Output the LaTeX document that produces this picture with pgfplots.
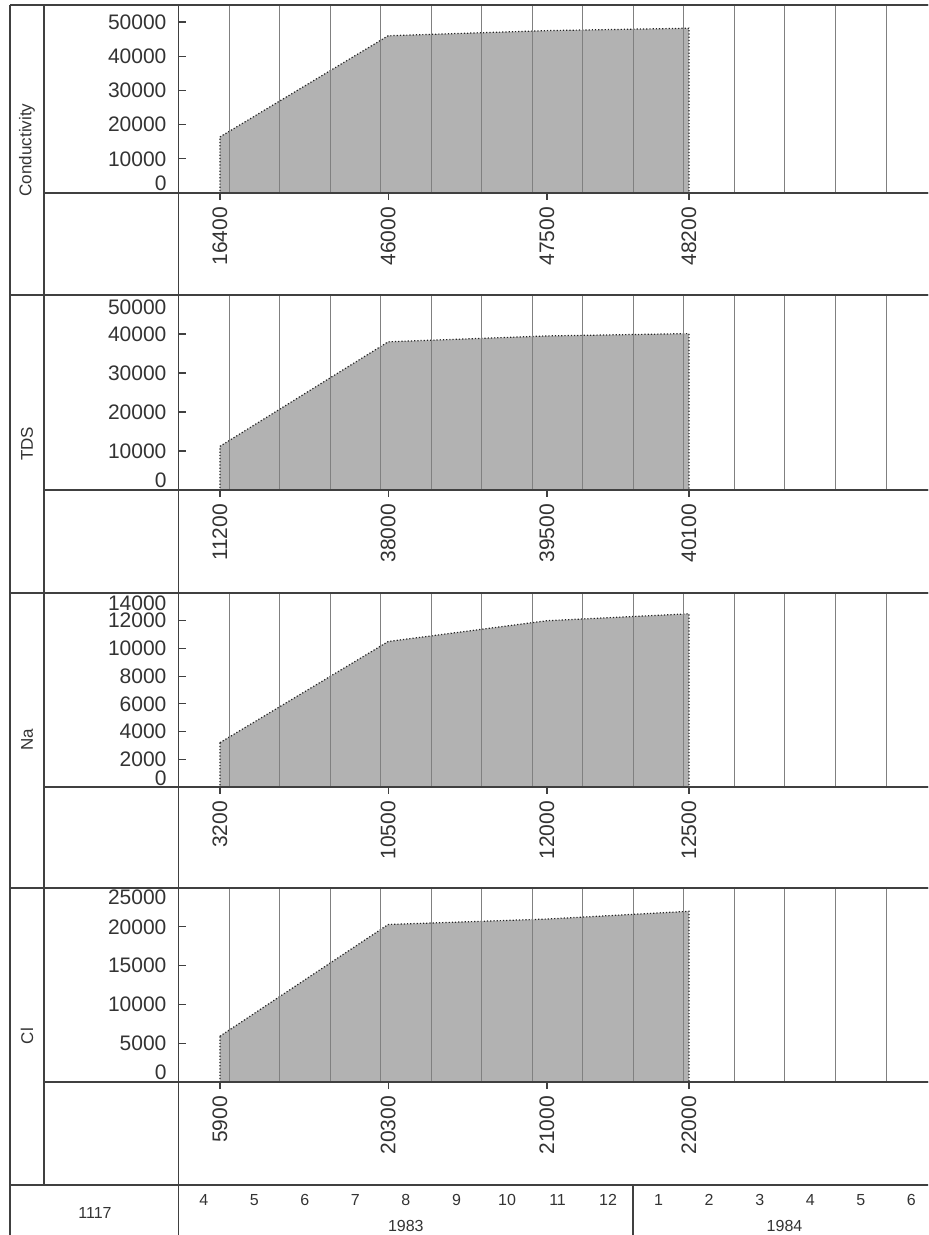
\documentclass[border=0pt]{standalone}
\usepackage{fontspec}
\setmainfont{Liberation Sans}
\usepackage{pgfplots}
\pgfplotsset{compat=1.18}

\pgfplotsset{
 panel/.style={
   scale only axis, anchor=south west,
   width=379.05pt,
   xmin=0, xmax=15, ymin=0,
   axis on top,
   scaled ticks=false,
   xtick pos=bottom, ytick pos=left,
   tick align=outside,
   major tick length=3.5pt,
   ytick style={xshift=3.5pt, black!75, line width=0.6pt},
   xtick style={black!75, line width=0.6pt},
   axis line style={black!75, line width=0.8pt},
   tick label style={font=\fontsize{10.5}{12}\selectfont, text=black!80},
   xticklabel style={rotate=90, anchor=east},
   yticklabel style={xshift=1pt},
   xtick={0.82,4.15,7.29,10.10},
   extra x ticks={1,2,3,4,5,6,7,8,9,10,11,12,13,14},
   extra x tick labels={},
   extra x tick style={grid=major, major tick length=0pt},
   major grid style={black!50, line width=0.5pt},
 },
 area/.style={fill=black!30, draw=black!85, densely dotted, line width=0.6pt},
}

\begin{document}
\begin{tikzpicture}
\useasboundingbox (0pt,0pt) rectangle (464pt,617.5pt);
\clip (0pt,0pt) rectangle (464pt,617.5pt);

% Conductivity
\begin{axis}[panel, at={(89.25pt,521pt)}, height=94pt, ymax=55000,
  ytick={0,10000,20000,30000,40000,50000},
  yticklabels={\raisebox{5pt}[\height][\depth]{0},10000,20000,30000,40000,50000},
  xticklabels={16400,46000,47500,48200}]
\addplot[area] coordinates {(0.82,16400) (4.15,46000) (7.29,47500) (10.10,48200)} \closedcycle;
\end{axis}

% TDS
\begin{axis}[panel, at={(89.25pt,372.5pt)}, height=97.5pt, ymax=50000,
  ytick={0,10000,20000,30000,40000,50000},
  yticklabels={\raisebox{5pt}[\height][\depth]{0},10000,20000,30000,40000,\raisebox{-6pt}[\height][\depth]{50000}},
  xticklabels={11200,38000,39500,40100}]
\addplot[area] coordinates {(0.82,11200) (4.15,38000) (7.29,39500) (10.10,40100)} \closedcycle;
\end{axis}

% Na
\begin{axis}[panel, at={(89.25pt,224pt)}, height=97pt, ymax=14000,
  ytick={0,2000,4000,6000,8000,10000,12000,14000},
  yticklabels={\raisebox{4.5pt}[\height][\depth]{0},2000,4000,6000,8000,10000,12000,\raisebox{-5pt}[\height][\depth]{14000}},
  xticklabels={3200,10500,12000,12500}]
\addplot[area] coordinates {(0.82,3200) (4.15,10500) (7.29,12000) (10.10,12500)} \closedcycle;
\end{axis}

% Cl
\begin{axis}[panel, at={(89.25pt,76.5pt)}, height=97pt, ymax=25000,
  ytick={0,5000,10000,15000,20000,25000},
  yticklabels={\raisebox{5pt}[\height][\depth]{0},5000,10000,15000,20000,\raisebox{-4.5pt}[\height][\depth]{25000}},
  xticklabels={5900,20300,21000,22000}]
\addplot[area] coordinates {(0.82,5900) (4.15,20300) (7.29,21000) (10.10,22000)} \closedcycle;
\end{axis}

% table frame
\begin{scope}[black!75, line width=0.8pt]
\draw (5pt,0pt) -- (5pt,615pt);
\draw (22pt,25pt) -- (22pt,615pt);
\draw (89.25pt,0pt) -- (89.25pt,615pt);
\draw (5pt,615pt) -- (470pt,615pt);
\draw (5pt,470pt) -- (470pt,470pt);
\draw (5pt,321pt) -- (470pt,321pt);
\draw (5pt,173.5pt) -- (470pt,173.5pt);
\draw (22pt,521pt) -- (470pt,521pt);
\draw (22pt,372.5pt) -- (470pt,372.5pt);
\draw (22pt,224pt) -- (470pt,224pt);
\draw (22pt,76.5pt) -- (470pt,76.5pt);
\draw[line width=1.3pt] (5pt,25pt) -- (470pt,25pt);
\draw[line width=0.6pt] (316.5pt,0pt) -- (316.5pt,25pt);
\end{scope}

% panel titles
\begin{scope}[every node/.style={rotate=90, font=\fontsize{8.5}{10}\selectfont, text=black!80}]
\node at (13.5pt,542.5pt) {Conductivity};
\node at (13.5pt,395.5pt) {TDS};
\node at (13.5pt,247.5pt) {Na};
\node at (13.5pt,99.5pt) {Cl};
\end{scope}

% bottom row
\begin{scope}[every node/.style={font=\fontsize{8}{9}\selectfont, text=black!80}]
\foreach \m [count=\i from 0] in {4,5,6,7,8,9,10,11,12,1,2,3,4,5,6}
  \node at ({89.25pt+25.27pt*(\i+0.5)},17.5pt) {\m};
\node at (202.9pt,4.5pt) {1983};
\node at (392.25pt,4.5pt) {1984};
\node at (47.5pt,11pt) {1117};
\end{scope}
\end{tikzpicture}
\end{document}
